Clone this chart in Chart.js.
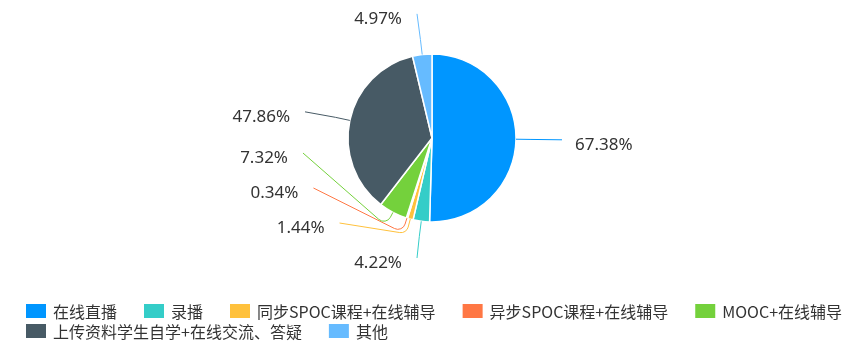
<!DOCTYPE html>
<html>
<head>
<meta charset="utf-8">
<script src="https://cdn.jsdelivr.net/npm/chart.js@4.4.0/dist/chart.umd.min.js"></script>
<style>
html,body{margin:0;padding:0;background:#fff;}
#wrap{width:866px;height:354px;position:relative;}
canvas{display:block;}
</style>
</head>
<body>
<div id="wrap"><canvas id="c" width="866" height="354"></canvas></div>
<script>
// ---- data ----
const categories = ['在线直播', '录播', '同步SPOC课程+在线辅导', '异步SPOC课程+在线辅导', 'MOOC+在线辅导', '上传资料学生自学+在线交流、答疑', '其他'];
const percentValues = [67.38, 4.22, 1.44, 0.34, 7.32, 47.86, 4.97];
const sliceColors = ['#0096ff', '#34cdc8', '#ffc13c', '#ff7744', '#74d13c', '#475a65', '#66bbff'];

const LABEL_FONT = '17px "Noto Sans", "Liberation Sans", sans-serif';
const LEGEND_FONT = '16px "Noto Sans CJK SC", "Noto Sans", sans-serif';

// outside labels with leader lines (ECharts-like layout)
const pieLabels = {
  id: 'pieLabels',
  afterDatasetsDraw(chart) {
    const meta = chart.getDatasetMeta(0);
    const ctx = chart.ctx;
    const items = meta.data.map((arc, i) => {
      const p = arc.getProps(['x', 'y', 'startAngle', 'endAngle', 'outerRadius'], true);
      const mid = (p.startAngle + p.endAngle) / 2;
      const dx = Math.cos(mid), dy = Math.sin(mid);
      const r = p.outerRadius;
      return {
        i, cx: p.x, cy: p.y, r, dx, dy,
        p1: [p.x + r * dx, p.y + r * dy],
        p2: [p.x + (r + 15) * dx, p.y + (r + 15) * dy],
        y: p.y + (r + 41) * dy,
        left: dx < 0
      };
    });
    const gap = 35;
    [true, false].forEach(side => {
      const list = items.filter(it => it.left === side).sort((a, b) => a.y - b.y);
      if (!list.length) return;
      const cy = list[0].cy, r = list[0].r;
      const maxY = cy + r + 36, minY = cy - r - 45;
      for (let k = 1; k < list.length; k++) list[k].y = Math.max(list[k].y, list[k - 1].y + gap);
      if (list[list.length - 1].y > maxY) {
        list[list.length - 1].y = maxY;
        for (let k = list.length - 2; k >= 0; k--) list[k].y = Math.min(list[k].y, list[k + 1].y - gap);
      }
      if (list[0].y < minY) {
        list[0].y = minY;
        for (let k = 1; k < list.length; k++) list[k].y = Math.max(list[k].y, list[k - 1].y + gap);
      }
    });
    ctx.save();
    items.forEach(it => {
      const A = it.r + 31;
      const ddy = Math.abs(it.y - it.cy);
      const ex = ddy < A ? Math.sqrt(A * A - ddy * ddy) : 0;
      const x3 = it.cx + (ex + 15) * (it.left ? -1 : 1);
      const y3 = it.y;
      const [x1, y1] = it.p1, [x2, y2] = it.p2;
      const l1 = Math.hypot(x2 - x1, y2 - y1), l2 = Math.hypot(x3 - x2, y3 - y2);
      const rad = Math.max(0.1, Math.min(8, l1 / 2, l2 / 2));
      ctx.beginPath();
      ctx.moveTo(x1, y1);
      ctx.arcTo(x2, y2, x3, y3, rad);
      ctx.lineTo(x3, y3);
      ctx.strokeStyle = sliceColors[it.i];
      ctx.lineWidth = 1;
      ctx.stroke();
      ctx.font = LABEL_FONT;
      ctx.fillStyle = '#333';
      ctx.textBaseline = 'middle';
      ctx.textAlign = it.left ? 'right' : 'left';
      ctx.fillText(percentValues[it.i].toFixed(2) + '%', it.left ? x3 - 15 : x3 + 13, y3 + 5);
    });
    ctx.restore();
  }
};

// bottom legend with independent row spacing
const bottomLegend = {
  id: 'bottomLegend',
  afterDraw(chart) {
    const ctx = chart.ctx;
    ctx.save();
    ctx.font = LEGEND_FONT;
    ctx.textBaseline = 'middle';
    ctx.textAlign = 'left';
    const startX = 26, gap = 27, boxW = 20, boxH = 14, textOff = 27, rowH = 20;
    const y0 = chart.height - 43;
    let x = startX, row = 0;
    categories.forEach((label, i) => {
      const w = textOff + ctx.measureText(label).width;
      if (x > startX && x + w > chart.width - 10) { row++; x = startX; }
      const y = y0 + row * rowH;
      ctx.fillStyle = sliceColors[i];
      ctx.fillRect(x, y - boxH / 2, boxW, boxH);
      ctx.fillStyle = '#333';
      ctx.fillText(label, x + textOff, y + 1);
      x += w + gap;
    });
    ctx.restore();
  }
};

new Chart(document.getElementById('c'), {
  type: 'pie',
  data: {
    labels: categories,
    datasets: [{
      data: percentValues,
      backgroundColor: sliceColors,
      borderColor: '#ffffff',
      borderWidth: 1.5,
      hoverOffset: 0
    }]
  },
  options: {
    responsive: false,
    animation: false,
    devicePixelRatio: 1,
    radius: 84,
    layout: { padding: { left: 0, right: 2, top: 0, bottom: 78 } },
    plugins: { legend: { display: false }, tooltip: { enabled: false } }
  },
  plugins: [pieLabels, bottomLegend]
});
</script>
</body>
</html>
